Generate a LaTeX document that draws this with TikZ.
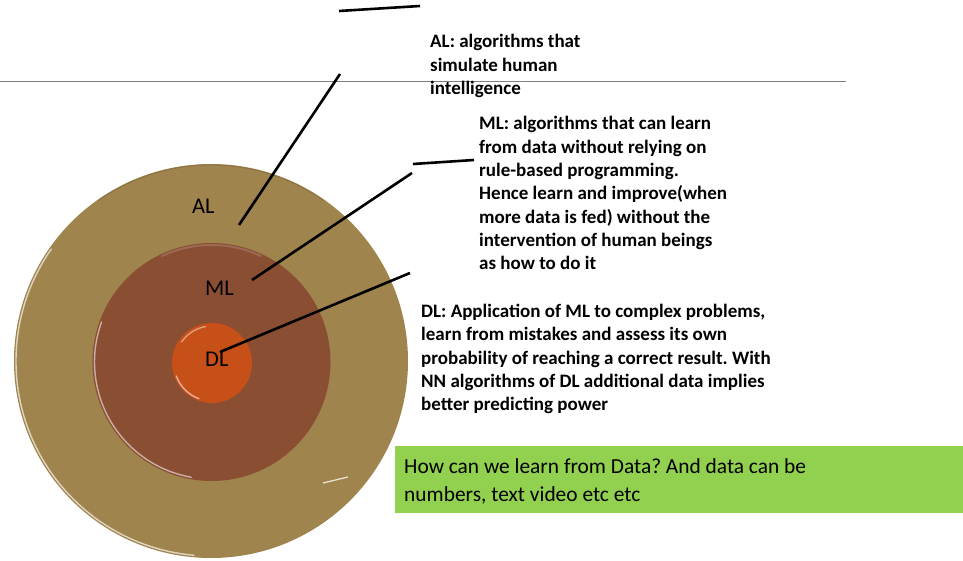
\documentclass[tikz,border=0pt]{standalone}
\usepackage{fontspec}
\setmainfont{Carlito}
\frenchspacing
\definecolor{alcol}{HTML}{A0844E}
\definecolor{mlcol}{HTML}{8A4E33}
\definecolor{dlcol}{HTML}{C74F18}
\definecolor{boxgreen}{HTML}{92D050}
\definecolor{rulegray}{HTML}{7F7F7F}
\tikzset{
  callout/.style={draw=black, line width=2.6pt},
  ringlabel/.style={anchor=base west, inner sep=0pt, font=\fontsize{22.5}{27}\selectfont},
  desc/.style={anchor=base west, inner sep=0pt, align=left, font=\fontsize{19}{23.3}\selectfont\bfseries},
  rim/.style={line width=1.4pt, line cap=round}
}
\begin{document}
\begin{tikzpicture}[x=1pt,y=-1pt]
\useasboundingbox (0,0) rectangle (963,561);
% rings
\fill[alcol] (211,361) circle (197);
\draw[rim, white!65!alcol] (211,361) ++(95:195) arc[start angle=95, end angle=215, radius=195];
\draw[rim, black!12!alcol, line width=1pt] (211,361) ++(235:196) arc[start angle=235, end angle=305, radius=196];
\fill[mlcol] (211.5,362) circle (119);
\draw[rim, white!55!mlcol] (211.5,362) ++(100:117) arc[start angle=100, end angle=200, radius=117];
\draw[rim, white!15!mlcol, line width=2pt] (211.5,362) ++(245:117) arc[start angle=245, end angle=295, radius=117];
\fill[dlcol] (212,363) circle (40);
\draw[rim, white!55!dlcol] (212,363) ++(110:38) arc[start angle=110, end angle=160, radius=38];
\draw[rim, white!45!dlcol] (212,363) ++(215:37) arc[start angle=215, end angle=260, radius=37];
\draw[line width=1.2pt, white!80!alcol] (323,483) -- (348,477);
% gray rule
\draw[rulegray, line width=1pt] (0,82) -- (846,82);
% ring labels
\node (al) [ringlabel] at (192,214) {AL};
\node (ml) [ringlabel] at (205,295) {ML};
\node (dl) [ringlabel] at (205,366) {DL};
% descriptions (base anchor = baseline of last line)
\node (altext) [desc] at (430,94.6) {AL: algorithms that\\simulate human\\intelligence};
\node (mltext) [desc] at (479,269.8) {ML: algorithms that can learn\\from data without relying on\\rule-based programming.\\Hence learn and improve(when\\more data is fed) without the\\intervention of human beings\\as how to do it};
\node (dltext) [desc] at (421,410.7) {DL: Application of ML to complex problems,\\learn from mistakes and assess its own\\probability of reaching a correct result. With\\NN algorithms of DL additional data implies\\better predicting power};
% callout coordinates
\coordinate (t1a) at (339,11);
\coordinate (t1b) at (420,6);
\coordinate (ala) at (340,74);
\coordinate (alb) at (239,225);
\coordinate (m1a) at (413,164);
\coordinate (m1b) at (474,160);
\coordinate (mla) at (412,173);
\coordinate (mlb) at (252,280);
\coordinate (dla) at (410,273);
\coordinate (dlb) at (220,352);
\draw[callout] (t1a) -- (t1b);
\draw[callout] (ala) -- (alb);
\draw[callout] (m1a) -- (m1b);
\draw[callout] (mla) -- (mlb);
\draw[callout] (dla) -- (dlb);
% green box
\node (qbox) [fill=boxgreen, anchor=north west, inner sep=0pt, minimum width=568pt, minimum height=67pt] at (395,446) {};
\node (qtext) [anchor=base west, inner sep=0pt, align=left, font=\fontsize{21.4}{28.4}\selectfont] at (404,501.4) {How can we learn from Data? And data can be\\numbers, text video etc etc};
\end{tikzpicture}
\end{document}
